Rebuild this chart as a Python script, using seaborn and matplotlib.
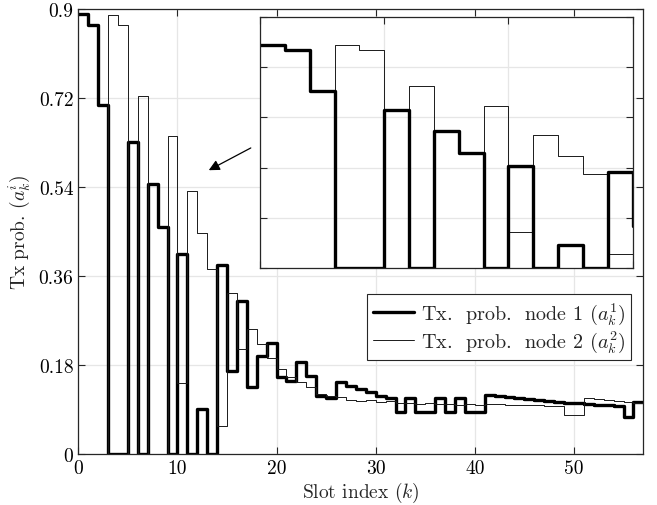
import numpy as np
import pandas as pd
import matplotlib
matplotlib.use("Agg")
import matplotlib.pyplot as plt
import seaborn as sns

# ---- data ----
slots = list(range(57))
node1 = [0.89, 0.868, 0.706, 0, 0, 0.631, 0, 0.546, 0.459, 0,
         0.405, 0, 0.092, 0, 0.383, 0.168, 0.31, 0.136, 0.199, 0.225,
         0.156, 0.148, 0.186, 0.158, 0.118, 0.113, 0.146, 0.138, 0.131, 0.125,
         0.118, 0.113, 0.085, 0.113, 0.085, 0.085, 0.113, 0.085, 0.113, 0.085,
         0.085, 0.12, 0.118, 0.115, 0.113, 0.111, 0.109, 0.107, 0.105, 0.104,
         0.103, 0.102, 0.100, 0.099, 0.098, 0.075, 0.106]
node2 = [0, 0, 0, 0.887, 0.867, 0, 0.725, 0, 0, 0.644,
         0.143, 0.531, 0.447, 0.375, 0.056, 0.326, 0.212, 0.253, 0.222, 0.194,
         0.172, 0.156, 0.146, 0.136, 0.121, 0.118, 0.115, 0.109, 0.107, 0.109,
         0.106, 0.108, 0.104, 0.104, 0.102, 0.104, 0.102, 0.102, 0.100, 0.102,
         0.100, 0.102, 0.101, 0.100, 0.100, 0.099, 0.099, 0.098, 0.098, 0.078,
         0.078, 0.114, 0.111, 0.109, 0.107, 0.105, 0.104]
labels = [r"Tx.  prob.  node 1 ($a_k^1$)", r"Tx.  prob.  node 2 ($a_k^2$)"]
xticks = [0, 10, 20, 30, 40, 50]
yticks = [0, 0.18, 0.36, 0.54, 0.72, 0.9]
ytick_labels = ["0", "0.18", "0.36", "0.54", "0.72", "0.9"]

# ---- style ----
sns.set_theme(style="ticks")
plt.rcParams["font.family"] = ["cmr10", "DejaVu Serif"]
plt.rcParams["mathtext.fontset"] = "cm"
plt.rcParams["axes.unicode_minus"] = False
plt.rcParams["axes.formatter.use_mathtext"] = True

def stairs_df(x, y, name):
    xs = list(x) + [x[-1] + 1]
    ys = list(y) + [y[-1]]
    return pd.DataFrame({"k": xs, "a": ys, "series": name})

df1 = stairs_df(slots, node1, labels[0])
df2 = stairs_df(slots, node2, labels[1])

fig = plt.figure(figsize=(6.57, 5.06), dpi=100)
ax = fig.add_axes([0.1192, 0.1008, 0.86, 0.8794])

spine_col = "#262626"
grid_col = "#e6e6e6"

def style_axes(a):
    for s in a.spines.values():
        s.set_color(spine_col)
        s.set_linewidth(0.9)
        s.set_visible(True)
    a.tick_params(direction="in", top=True, right=True, length=5,
                  width=0.8, colors=spine_col, labelcolor="black")
    a.grid(True, color=grid_col, linewidth=0.9)
    a.set_axisbelow(True)
    a.set_facecolor("white")

sns.lineplot(data=df1, x="k", y="a", ax=ax, drawstyle="steps-post",
             color="black", linewidth=2.4, label=labels[0], estimator=None)
sns.lineplot(data=df2, x="k", y="a", ax=ax, drawstyle="steps-post",
             color="#1a1a1a", linewidth=0.7, label=labels[1], estimator=None)

ax.set_xlim(0, 57)
ax.set_ylim(0, 0.9)
ax.set_xticks(xticks)
ax.set_xticklabels([str(t) for t in xticks], fontsize=14)
ax.set_yticks(yticks)
ax.set_yticklabels(ytick_labels, fontsize=14)
ax.set_xlabel(r"Slot index ($k$)", fontsize=14, labelpad=2)
ax.set_ylabel(r"Tx prob. ($a_k^i$)", fontsize=14, labelpad=5)
style_axes(ax)

leg = ax.legend(loc="upper right", bbox_to_anchor=(0.978, 0.36),
                borderaxespad=0, fancybox=False, fontsize=14.5,
                handlelength=2.0, handletextpad=0.35, borderpad=0.3,
                labelspacing=0.1, framealpha=1)
leg.get_frame().set_edgecolor(spine_col)
leg.get_frame().set_linewidth(0.8)

ax.annotate("", xy=(13.16, 0.574), xytext=(17.4, 0.619),
            arrowprops=dict(arrowstyle="-|>", color="black", lw=0.9,
                            mutation_scale=16, shrinkA=0, shrinkB=0))

# ---- inset ----
ax2 = fig.add_axes([0.3957, 0.4684, 0.5673, 0.496])
sns.lineplot(data=df2, x="k", y="a", ax=ax2, drawstyle="steps-post",
             color="#1a1a1a", linewidth=0.7, estimator=None, legend=False)
sns.lineplot(data=df1, x="k", y="a", ax=ax2, drawstyle="steps-post",
             color="black", linewidth=2.4, estimator=None, legend=False)
ax2.set_xlim(0, 15)
ax2.set_ylim(0, 1)
ax2.set_xticks([0, 5, 10, 15])
ax2.set_yticks([0, 0.2, 0.4, 0.6, 0.8, 1.0])
ax2.set_xticklabels([])
ax2.set_yticklabels([])
ax2.set_xlabel("")
ax2.set_ylabel("")
style_axes(ax2)

fig.savefig("out.png", dpi=100)
